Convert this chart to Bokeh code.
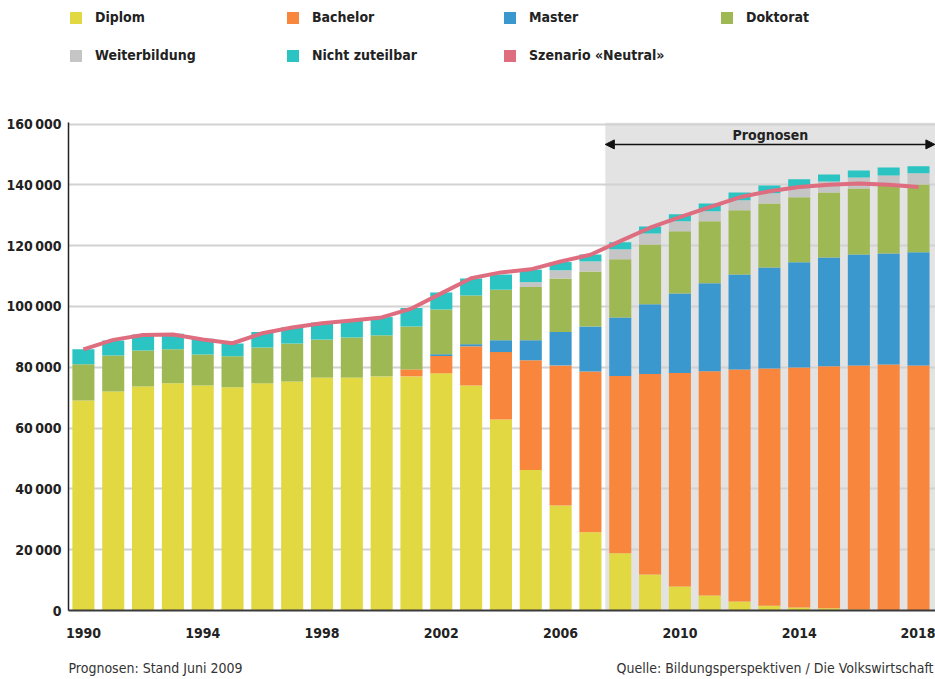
from bokeh.plotting import figure
from bokeh.layouts import column
from bokeh.models import (ColumnDataSource, FixedTicker, Legend, LegendItem, BoxAnnotation,
                          Arrow, NormalHead, Label, Range1d)
from bokeh.embed import file_html
from bokeh.resources import INLINE

FONT = "'Liberation Sans Narrow', 'DejaVu Sans Condensed', 'Roboto', sans-serif"

years = list(range(1990, 2019))
diplom = [69100, 72000, 73700, 74700, 74000, 73400, 74700, 75300, 76600, 76600, 77000, 77000, 78000,
          74000, 62800, 46200, 34500, 25700, 18800, 11800, 7900, 4900, 3000, 1600, 1000, 700, 300, 100, 0]
bachelor = [0] * 11 + [2300, 5700, 12900, 22200, 36100, 46100, 52900, 58300, 66000, 70200, 73800, 76300,
                       78000, 78900, 79600, 80300, 80800, 80600]
master = [0] * 12 + [600, 700, 3900, 6600, 11000, 14800, 19300, 22900, 26200, 28900, 31200, 33200, 34600,
                     35800, 36500, 36500, 37200]
doktorat = [11900, 11900, 11800, 11200, 10200, 10200, 11800, 12500, 12500, 13200, 13500, 14100, 14700,
            16000, 16600, 17500, 17600, 18100, 19100, 19700, 20400, 20400, 21100, 21100, 21400, 21400,
            21700, 22400, 22300]
weiterbildung = [0] * 15 + [1600, 2700, 3300, 3300, 3600, 3300, 3300, 3300, 3300, 3000, 3600, 3600, 3300, 3700]
nicht_zuteilbar = [4900, 4900, 5300, 5100, 5200, 4200, 5100, 5300, 5600, 5600, 6000, 6100, 5600, 5600, 5000,
                   4100, 2700, 2300, 2300, 2300, 2300, 2600, 2600, 2600, 2900, 2300, 2300, 2600, 2300]
szenario_neutral = [85900, 89000, 90600, 90800, 89100, 87900, 91200, 93100, 94500, 95400, 96400, 99300,
                    104300, 109300, 111200, 112200, 114800, 117000, 121500, 125900, 129400, 132700, 135900,
                    137900, 139300, 140000, 140400, 140000, 139300]

series_names = ["Diplom", "Bachelor", "Master", "Doktorat", "Weiterbildung", "Nicht zuteilbar"]
line_name = "Szenario «Neutral»"
colors = ["#e2d841", "#f8873d", "#3a98cf", "#9eb853", "#c4c5c4", "#2bc4c2"]
line_color = "#de6d80"

x_tick_years = [1990, 1994, 1998, 2002, 2006, 2010, 2014, 2018]
y_ticks = [0, 20000, 40000, 60000, 80000, 100000, 120000, 140000, 160000]
y_tick_labels = ["0", "20\u2009000", "40\u2009000", "60\u2009000", "80\u2009000", "100\u2009000",
                 "120\u2009000", "140\u2009000", "160\u2009000"]
forecast_start = 2007.5
forecast_label = "Prognosen"
footer_left = "Prognosen: Stand Juni 2009"
footer_right = "Quelle: Bildungsperspektiven / Die Volkswirtschaft"

source = ColumnDataSource(dict(year=years, Diplom=diplom, Bachelor=bachelor, Master=master,
                               Doktorat=doktorat, Weiterbildung=weiterbildung,
                               **{"Nicht zuteilbar": nicht_zuteilbar}, neutral=szenario_neutral))

W = 935
LEFT = 68
LEG_H = 70
FOOT_H = 29
MAIN_H = 679 - LEG_H - FOOT_H
FRAME_TOP = 122 - LEG_H
FRAME_H = 488
X0, X1 = 1989.5, 2018.57
Y0, Y1 = 0, 160500

# ---------------- legend strip ----------------
lg = figure(width=W, height=LEG_H, output_backend="svg", toolbar_location=None,
            x_range=Range1d(0, 1), y_range=Range1d(0, 1), x_axis_type=None, y_axis_type=None,
            min_border_left=LEFT, min_border_top=9, min_border_right=0, min_border_bottom=0)
lg.outline_line_color = None
leg_colors = colors + [line_color]
leg_names = series_names + [line_name]
dummies = [lg.vbar(x=[-10], top=[0], width=0.1, fill_color=c, line_color=None) for c in leg_colors]
legend = Legend(items=[LegendItem(label=n, renderers=[r]) for n, r in zip(leg_names, dummies)],
                location="top_left", orientation="horizontal", ncols=4,
                glyph_width=15, glyph_height=15, label_standoff=12, label_width=168, label_height=15,
                spacing=22, padding=0, margin=0, border_line_color=None, background_fill_alpha=0,
                label_text_font=FONT, label_text_font_style="bold", label_text_font_size="14px",
                label_text_color="#222222")
lg.add_layout(legend, "center")

# ---------------- main chart ----------------
p = figure(width=W, height=MAIN_H, output_backend="svg", toolbar_location=None,
           x_range=Range1d(X0, X1), y_range=Range1d(Y0, Y1),
           min_border_left=LEFT, min_border_right=0, min_border_top=FRAME_TOP,
           min_border_bottom=MAIN_H - FRAME_TOP - FRAME_H)
p.outline_line_color = None
p.background_fill_color = "white"

shade = BoxAnnotation(left=forecast_start, fill_color="#e3e3e3", fill_alpha=1.0, line_color=None, level="image")
p.add_layout(shade)

bars = p.vbar_stack(series_names, x="year", width=0.74, color=colors, line_color=None, source=source)
ln = p.line("year", "neutral", source=source, line_color=line_color, line_width=4, line_join="round")

p.xaxis.ticker = FixedTicker(ticks=x_tick_years)
p.yaxis.ticker = FixedTicker(ticks=y_ticks)
p.yaxis.major_label_overrides = {t: l for t, l in zip(y_ticks, y_tick_labels)}
for ax in (p.xaxis[0], p.yaxis[0]):
    ax.major_tick_line_color = None
    ax.minor_tick_line_color = None
    ax.major_tick_out = 0
    ax.major_tick_in = 0
    ax.minor_tick_out = 0
    ax.minor_tick_in = 0
    ax.major_label_text_font = FONT
    ax.major_label_text_font_style = "bold"
    ax.major_label_text_font_size = "14px"
    ax.major_label_text_color = "#222222"
p.xaxis.axis_line_color = "#3a3a3a"
p.xaxis.axis_line_width = 2
p.xaxis.major_label_standoff = 17
p.yaxis.axis_line_color = "#222222"
p.yaxis.axis_line_width = 1.5
p.yaxis.major_label_standoff = 7

p.xgrid.grid_line_color = None
p.ygrid.grid_line_color = "#d2d2d2"
p.ygrid.grid_line_width = 2

arrow_y = 153300
p.add_layout(Arrow(x_start=forecast_start, x_end=X1 - 0.02, y_start=arrow_y, y_end=arrow_y,
                   line_color="#111111", line_width=1.5,
                   start=NormalHead(size=9, fill_color="#111111", line_color="#111111"),
                   end=NormalHead(size=9, fill_color="#111111", line_color="#111111")))
p.add_layout(Label(x=(forecast_start + X1) / 2, y=156300, text=forecast_label, text_align="center",
                   text_baseline="middle", text_font=FONT, text_font_style="bold",
                   text_font_size="14px", text_color="#222222"))

# ---------------- footer strip ----------------
ft = figure(width=W, height=FOOT_H, output_backend="svg", toolbar_location=None,
            x_range=Range1d(0, W - LEFT), y_range=Range1d(0, FOOT_H), x_axis_type=None, y_axis_type=None,
            min_border_left=LEFT, min_border_top=0, min_border_right=0, min_border_bottom=0)
ft.outline_line_color = None
ft.add_layout(Label(x=0, y=12, text=footer_left, text_align="left", text_baseline="middle",
                    text_font=FONT, text_font_size="14px", text_color="#333333"))
ft.add_layout(Label(x=W - LEFT - 2, y=12, text=footer_right, text_align="right", text_baseline="middle",
                    text_font=FONT, text_font_size="14px", text_color="#333333"))

open("out.html", "w").write(file_html(column(lg, p, ft), INLINE))
